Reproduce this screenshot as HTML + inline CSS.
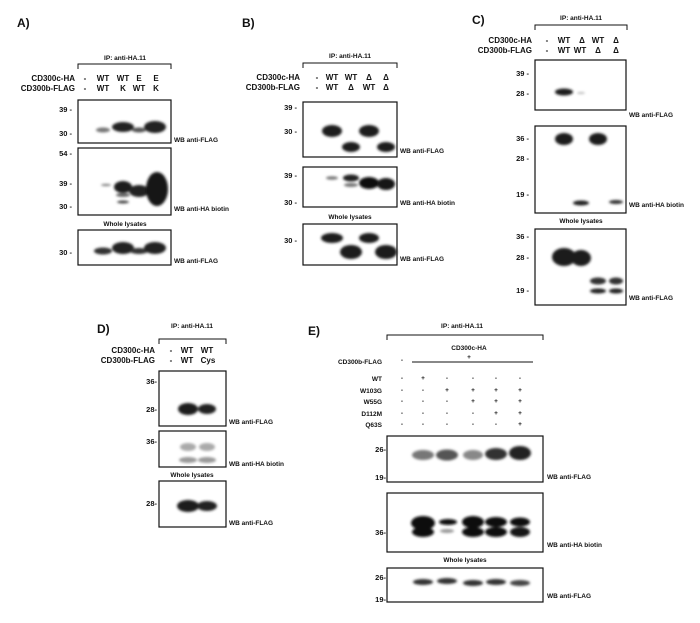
<!DOCTYPE html>
<html><head><meta charset="utf-8"><style>
html,body{margin:0;padding:0;background:#fff;}
svg{display:block;}
text{font-family:"Liberation Sans",Arial,sans-serif;font-weight:bold;fill:#111;}
.l{font-size:8px;}
.s{font-size:6.5px;}
.p{font-size:12px;}
.m{font-size:7.5px;}
rect.b{fill:#fff;stroke:#111;stroke-width:1.2;}
</style></head><body>
<svg width="700" height="623" viewBox="0 0 700 623" xmlns="http://www.w3.org/2000/svg">
<defs>
<filter id="f" x="-50%" y="-50%" width="200%" height="200%"><feGaussianBlur stdDeviation="1.2"/></filter>
</defs>
<rect width="700" height="623" fill="#fff"/>

<!-- Panel A -->
<text class="p" x="17" y="27">A)</text>
<text class="s" x="125" y="60" text-anchor="middle">IP: anti-HA.11</text>
<path d="M78 69 V64 H171 V69" fill="none" stroke="#111" stroke-width="1"/>
<text class="l" x="75" y="81" text-anchor="end">CD300c-HA</text>
<text class="l" x="75" y="91" text-anchor="end">CD300b-FLAG</text>
<g class="l" text-anchor="middle">
<text x="85" y="81">-</text><text x="103" y="81">WT</text><text x="123" y="81">WT</text><text x="139" y="81">E</text><text x="156" y="81">E</text>
<text x="85" y="91">-</text><text x="103" y="91">WT</text><text x="123" y="91">K</text><text x="139" y="91">WT</text><text x="156" y="91">K</text>
</g>
<rect class="b" x="78" y="100" width="93" height="43"/>
<rect class="b" x="78" y="148" width="93" height="67"/>
<rect class="b" x="78" y="230" width="93" height="35"/>
<g class="m" text-anchor="end">
<text x="72" y="112">39 -</text><text x="72" y="136">30 -</text>
<text x="72" y="156">54 -</text><text x="72" y="186">39 -</text><text x="72" y="209">30 -</text>
<text x="72" y="255">30 -</text>
</g>
<text class="s" x="174" y="142">WB anti-FLAG</text>
<text class="s" x="174" y="211">WB anti-HA biotin</text>
<text class="s" x="125" y="226" text-anchor="middle">Whole lysates</text>
<text class="s" x="174" y="263">WB anti-FLAG</text>
<g filter="url(#f)">
<ellipse cx="103" cy="130" rx="7" ry="2.5" fill="#777"/>
<ellipse cx="123" cy="127" rx="11" ry="5" fill="#222"/>
<ellipse cx="139" cy="130" rx="7" ry="2.5" fill="#555"/>
<ellipse cx="155" cy="127" rx="11" ry="6" fill="#222"/>
<ellipse cx="106" cy="185" rx="5" ry="1.3" fill="#888"/>
<ellipse cx="123" cy="187" rx="9" ry="6" fill="#1a1a1a"/>
<ellipse cx="123" cy="195" rx="7" ry="2" fill="#666"/>
<ellipse cx="123" cy="202" rx="6" ry="1.5" fill="#444"/>
<ellipse cx="139" cy="191" rx="10" ry="6" fill="#222"/>
<ellipse cx="157" cy="189" rx="11" ry="17" fill="#151515"/>
<ellipse cx="103" cy="251" rx="9" ry="3.5" fill="#333"/>
<ellipse cx="123" cy="248" rx="11" ry="6" fill="#222"/>
<ellipse cx="139" cy="251" rx="9" ry="3" fill="#333"/>
<ellipse cx="155" cy="248" rx="11" ry="6" fill="#222"/>
</g>

<!-- Panel B -->
<text class="p" x="242" y="27">B)</text>
<text class="s" x="350" y="58" text-anchor="middle">IP: anti-HA.11</text>
<path d="M303 68 V63 H397 V68" fill="none" stroke="#111" stroke-width="1"/>
<text class="l" x="300" y="80" text-anchor="end">CD300c-HA</text>
<text class="l" x="300" y="90" text-anchor="end">CD300b-FLAG</text>
<g class="l" text-anchor="middle">
<text x="317" y="80">-</text><text x="332" y="80">WT</text><text x="351" y="80">WT</text><text x="369" y="80">Δ</text><text x="386" y="80">Δ</text>
<text x="317" y="90">-</text><text x="332" y="90">WT</text><text x="351" y="90">Δ</text><text x="369" y="90">WT</text><text x="386" y="90">Δ</text>
</g>
<rect class="b" x="303" y="102" width="94" height="55"/>
<rect class="b" x="303" y="167" width="94" height="40"/>
<rect class="b" x="303" y="224" width="94" height="41"/>
<g class="m" text-anchor="end">
<text x="297" y="110">39 -</text><text x="297" y="134">30 -</text>
<text x="297" y="178">39 -</text><text x="297" y="205">30 -</text>
<text x="297" y="243">30 -</text>
</g>
<text class="s" x="400" y="153">WB anti-FLAG</text>
<text class="s" x="400" y="205">WB anti-HA biotin</text>
<text class="s" x="350" y="219" text-anchor="middle">Whole lysates</text>
<text class="s" x="400" y="261">WB anti-FLAG</text>
<g filter="url(#f)">
<ellipse cx="332" cy="131" rx="10" ry="6" fill="#1a1a1a"/>
<ellipse cx="351" cy="147" rx="9" ry="5" fill="#1a1a1a"/>
<ellipse cx="369" cy="131" rx="10" ry="6" fill="#1a1a1a"/>
<ellipse cx="386" cy="147" rx="9" ry="5" fill="#1a1a1a"/>
<ellipse cx="332" cy="178" rx="6" ry="1.8" fill="#777"/>
<ellipse cx="351" cy="178" rx="8" ry="3.5" fill="#222"/>
<ellipse cx="351" cy="185" rx="7" ry="2" fill="#777"/>
<ellipse cx="369" cy="183" rx="10" ry="6" fill="#111"/>
<ellipse cx="386" cy="184" rx="9" ry="6" fill="#151515"/>
<ellipse cx="332" cy="238" rx="11" ry="5" fill="#1a1a1a"/>
<ellipse cx="351" cy="252" rx="11" ry="7" fill="#1a1a1a"/>
<ellipse cx="369" cy="238" rx="10" ry="5" fill="#1a1a1a"/>
<ellipse cx="386" cy="252" rx="11" ry="7" fill="#1a1a1a"/>
</g>

<!-- Panel C -->
<text class="p" x="472" y="24">C)</text>
<text class="s" x="581" y="20" text-anchor="middle">IP: anti-HA.11</text>
<path d="M535 30 V25 H627 V30" fill="none" stroke="#111" stroke-width="1"/>
<text class="l" x="532" y="43" text-anchor="end">CD300c-HA</text>
<text class="l" x="532" y="53" text-anchor="end">CD300b-FLAG</text>
<g class="l" text-anchor="middle">
<text x="547" y="43">-</text><text x="564" y="43">WT</text><text x="582" y="43">Δ</text><text x="598" y="43">WT</text><text x="616" y="43">Δ</text>
<text x="547" y="53">-</text><text x="564" y="53">WT</text><text x="580" y="53">WT</text><text x="598" y="53">Δ</text><text x="616" y="53">Δ</text>
</g>
<rect class="b" x="535" y="60" width="91" height="50"/>
<rect class="b" x="535" y="126" width="91" height="87"/>
<rect class="b" x="535" y="229" width="91" height="76"/>
<g class="m" text-anchor="end">
<text x="529" y="76">39 -</text><text x="529" y="96">28 -</text>
<text x="529" y="141">36 -</text><text x="529" y="161">28 -</text><text x="529" y="197">19 -</text>
<text x="529" y="239">36 -</text><text x="529" y="260">28 -</text><text x="529" y="293">19 -</text>
</g>
<text class="s" x="629" y="117">WB anti-FLAG</text>
<text class="s" x="629" y="207">WB anti-HA biotin</text>
<text class="s" x="581" y="223" text-anchor="middle">Whole lysates</text>
<text class="s" x="629" y="300">WB anti-FLAG</text>
<g filter="url(#f)">
<ellipse cx="564" cy="92" rx="9" ry="3.5" fill="#1a1a1a"/>
<ellipse cx="581" cy="93" rx="4" ry="1" fill="#bbb"/>
<ellipse cx="564" cy="139" rx="9" ry="6" fill="#1a1a1a"/>
<ellipse cx="598" cy="139" rx="9" ry="6" fill="#1a1a1a"/>
<ellipse cx="581" cy="203" rx="8" ry="2.5" fill="#222"/>
<ellipse cx="616" cy="202" rx="7" ry="2" fill="#333"/>
<ellipse cx="564" cy="257" rx="12" ry="9" fill="#1a1a1a"/>
<ellipse cx="581" cy="258" rx="10" ry="8" fill="#1a1a1a"/>
<ellipse cx="598" cy="281" rx="8" ry="3.5" fill="#333"/>
<ellipse cx="598" cy="291" rx="8" ry="2.5" fill="#222"/>
<ellipse cx="616" cy="281" rx="7" ry="3.5" fill="#333"/>
<ellipse cx="616" cy="291" rx="7" ry="2.5" fill="#222"/>
</g>

<!-- Panel D -->
<text class="p" x="97" y="333">D)</text>
<text class="s" x="192" y="328" text-anchor="middle">IP: anti-HA.11</text>
<path d="M159 344 V339 H226 V344" fill="none" stroke="#111" stroke-width="1"/>
<text class="l" x="155" y="353" text-anchor="end">CD300c-HA</text>
<text class="l" x="155" y="363" text-anchor="end">CD300b-FLAG</text>
<g class="l" text-anchor="middle">
<text x="171" y="353">-</text><text x="187" y="353">WT</text><text x="207" y="353">WT</text>
<text x="171" y="363">-</text><text x="187" y="363">WT</text><text x="208" y="363">Cys</text>
</g>
<rect class="b" x="159" y="371" width="67" height="55"/>
<rect class="b" x="159" y="431" width="67" height="36"/>
<rect class="b" x="159" y="481" width="67" height="46"/>
<g class="m" text-anchor="end">
<text x="157" y="384">36-</text><text x="157" y="412">28-</text>
<text x="157" y="444">36-</text><text x="157" y="506">28-</text>
</g>
<text class="s" x="229" y="424">WB anti-FLAG</text>
<text class="s" x="229" y="466">WB anti-HA biotin</text>
<text class="s" x="192" y="477" text-anchor="middle">Whole lysates</text>
<text class="s" x="229" y="525">WB anti-FLAG</text>
<g filter="url(#f)">
<ellipse cx="188" cy="409" rx="10" ry="6" fill="#1a1a1a"/>
<ellipse cx="207" cy="409" rx="9" ry="5" fill="#222"/>
<ellipse cx="188" cy="447" rx="8" ry="4" fill="#aaa"/>
<ellipse cx="188" cy="460" rx="9" ry="3" fill="#999"/>
<ellipse cx="207" cy="447" rx="8" ry="4" fill="#aaa"/>
<ellipse cx="207" cy="460" rx="9" ry="3" fill="#999"/>
<ellipse cx="188" cy="506" rx="11" ry="6" fill="#1a1a1a"/>
<ellipse cx="207" cy="506" rx="10" ry="5" fill="#222"/>
</g>

<!-- Panel E -->
<text class="p" x="308" y="335">E)</text>
<text class="s" x="462" y="328" text-anchor="middle">IP: anti-HA.11</text>
<path d="M387 340 V335 H543 V340" fill="none" stroke="#111" stroke-width="1"/>
<text class="s" x="469" y="350" text-anchor="middle">CD300c-HA</text>
<text class="s" x="469" y="359" text-anchor="middle">+</text>
<line x1="412" y1="362" x2="533" y2="362" stroke="#111" stroke-width="1"/>
<g class="s" text-anchor="end">
<text x="382" y="364">CD300b-FLAG</text>
<text x="382" y="381">WT</text>
<text x="382" y="393">W103G</text>
<text x="382" y="404">W55G</text>
<text x="382" y="416">D112M</text>
<text x="382" y="427">Q63S</text>
</g>
<g class="s" text-anchor="middle">
<text x="402" y="362">-</text>
<text x="402" y="380">-</text><text x="423" y="380">+</text><text x="447" y="380">-</text><text x="473" y="380">-</text><text x="496" y="380">-</text><text x="520" y="380">-</text>
<text x="402" y="392">-</text><text x="423" y="392">-</text><text x="447" y="392">+</text><text x="473" y="392">+</text><text x="496" y="392">+</text><text x="520" y="392">+</text>
<text x="402" y="403">-</text><text x="423" y="403">-</text><text x="447" y="403">-</text><text x="473" y="403">+</text><text x="496" y="403">+</text><text x="520" y="403">+</text>
<text x="402" y="415">-</text><text x="423" y="415">-</text><text x="447" y="415">-</text><text x="473" y="415">-</text><text x="496" y="415">+</text><text x="520" y="415">+</text>
<text x="402" y="426">-</text><text x="423" y="426">-</text><text x="447" y="426">-</text><text x="473" y="426">-</text><text x="496" y="426">-</text><text x="520" y="426">+</text>
</g>
<rect class="b" x="387" y="436" width="156" height="46"/>
<rect class="b" x="387" y="493" width="156" height="59"/>
<rect class="b" x="387" y="568" width="156" height="34"/>
<g class="m" text-anchor="end">
<text x="386" y="452">26-</text><text x="386" y="480">19-</text>
<text x="386" y="535">36-</text>
<text x="386" y="580">26-</text><text x="386" y="602">19-</text>
</g>
<text class="s" x="547" y="479">WB anti-FLAG</text>
<text class="s" x="547" y="547">WB anti-HA biotin</text>
<text class="s" x="465" y="562" text-anchor="middle">Whole lysates</text>
<text class="s" x="547" y="598">WB anti-FLAG</text>
<g filter="url(#f)">
<ellipse cx="423" cy="455" rx="11" ry="5" fill="#777"/>
<ellipse cx="447" cy="455" rx="11" ry="5.5" fill="#555"/>
<ellipse cx="473" cy="455" rx="10" ry="5" fill="#888"/>
<ellipse cx="496" cy="454" rx="11" ry="6" fill="#333"/>
<ellipse cx="520" cy="453" rx="11" ry="7" fill="#222"/>
<ellipse cx="423" cy="523" rx="12" ry="7" fill="#111"/>
<ellipse cx="423" cy="532" rx="11" ry="5" fill="#111"/>
<ellipse cx="448" cy="522" rx="9" ry="3" fill="#111"/>
<ellipse cx="447" cy="531" rx="7" ry="2" fill="#999"/>
<ellipse cx="473" cy="522" rx="11" ry="6" fill="#111"/>
<ellipse cx="473" cy="532" rx="11" ry="5" fill="#111"/>
<ellipse cx="496" cy="522" rx="11" ry="5" fill="#111"/>
<ellipse cx="496" cy="532" rx="11" ry="5" fill="#111"/>
<ellipse cx="520" cy="522" rx="10" ry="4.5" fill="#111"/>
<ellipse cx="520" cy="532" rx="10" ry="5" fill="#151515"/>
<ellipse cx="423" cy="582" rx="10" ry="3" fill="#333"/>
<ellipse cx="447" cy="581" rx="10" ry="3" fill="#333"/>
<ellipse cx="473" cy="583" rx="10" ry="3" fill="#333"/>
<ellipse cx="496" cy="582" rx="10" ry="3" fill="#333"/>
<ellipse cx="520" cy="583" rx="10" ry="3" fill="#444"/>
</g>
</svg>
</body></html>
